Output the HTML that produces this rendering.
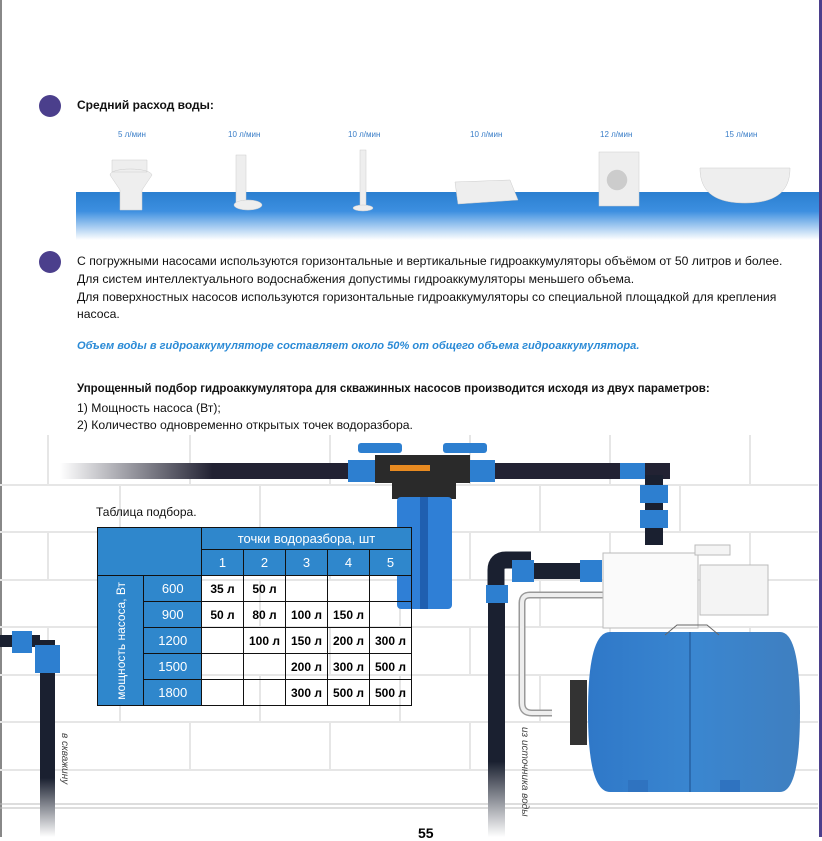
<!DOCTYPE html>
<html><head><meta charset="utf-8"><style>
body{margin:0;width:822px;height:837px;overflow:hidden;background:#fff;font-family:"Liberation Sans","DejaVu Sans",sans-serif;position:relative}
.a{position:absolute;white-space:nowrap}
.t{font-size:12.2px;color:#111}
.dot{position:absolute;width:22px;height:22px;border-radius:50%;background:#4b3f8c}
table{border-collapse:collapse;position:absolute;left:97px;top:527px;font-family:"Liberation Sans",sans-serif}
td{border:1.5px solid #111;text-align:center;font-size:12px;font-weight:bold;padding:0;height:25px}
td.b{background:#2f87cc;color:#fff;font-weight:normal;font-size:13px}
</style></head><body>
<div class="a" style="left:0;top:0;width:2px;height:837px;background:#888"></div>
<div class="a" style="left:819px;top:0;width:3px;height:837px;background:#4b3f8c"></div>
<div class="dot" style="left:39px;top:95px"></div>
<div class="a t" style="left:77px;top:98px;font-weight:bold;font-size:12px">Средний расход воды:</div>
<div class="a" style="left:76px;top:192px;width:743px;height:48px;background:linear-gradient(#2a7fd0,#3d8fe0 40%,#fff)"></div>
<div class="a" style="color:#3a7ec8;font-size:8px;top:130px;left:118px">5 л/мин</div>
<div class="a" style="color:#3a7ec8;font-size:8px;top:130px;left:228px">10 л/мин</div>
<div class="a" style="color:#3a7ec8;font-size:8px;top:130px;left:348px">10 л/мин</div>
<div class="a" style="color:#3a7ec8;font-size:8px;top:130px;left:470px">10 л/мин</div>
<div class="a" style="color:#3a7ec8;font-size:8px;top:130px;left:600px">12 л/мин</div>
<div class="a" style="color:#3a7ec8;font-size:8px;top:130px;left:725px">15 л/мин</div>
<svg class="a" style="left:0;top:0" width="822" height="837">
<g fill="#eee" stroke="#ccc" stroke-width=".5">
<path d="M112 160h35v12h-35zM110 175c0-8 40-8 42 0l-10 15v20h-22v-20z"/>
<rect x="236" y="155" width="10" height="50"/><ellipse cx="248" cy="205" rx="14" ry="5"/>
<rect x="360" y="150" width="6" height="58"/><ellipse cx="363" cy="208" rx="10" ry="3"/>
<path d="M455 182l55-2 8 20-60 4z"/>
<rect x="599" y="152" width="40" height="54"/><circle cx="617" cy="180" r="10" fill="#ccc"/>
<path d="M700 168h90c0 20-10 35-45 35s-45-15-45-35z"/>
</g>
</svg>
<div class="dot" style="left:39px;top:251px"></div>
<div class="a t" style="left:77px;top:254px">С погружными насосами используются горизонтальные и вертикальные гидроаккумуляторы объёмом от 50 литров и более.</div>
<div class="a t" style="left:77px;top:272px">Для систем интеллектуального водоснабжения допустимы гидроаккумуляторы меньшего объема.</div>
<div class="a t" style="left:77px;top:290px">Для поверхностных насосов используются горизонтальные гидроаккумуляторы со специальной площадкой для крепления</div>
<div class="a t" style="left:77px;top:307px">насоса.</div>
<div class="a" style="left:77px;top:340px;font-size:11.1px;color:#2a8ad6;font-style:italic;font-weight:bold">Объем воды в гидроаккумуляторе составляет около 50% от общего объема гидроаккумулятора.</div>
<div class="a" style="left:77px;top:383px;font-weight:bold;font-size:11.5px;color:#111">Упрощенный подбор гидроаккумулятора для скважинных насосов производится исходя из двух параметров:</div>
<div class="a t" style="left:77px;top:401px">1) Мощность насоса (Вт);</div>
<div class="a t" style="left:77px;top:418px">2) Количество одновременно открытых точек водоразбора.</div>
<svg class="a" style="left:0;top:435px" width="822" height="402">
<g fill="none" stroke="#e6e6e6" stroke-width="2">
<path d="M0 50H818M0 97H818M0 145H818M0 192H818M0 240H818M0 287H818M0 335H818"/>
<path d="M48 0v50M190 0v50M330 0v50M470 0v50M610 0v50M750 0v50M120 50v47M260 50v47M400 50v47M540 50v47M680 50v47M48 97v48M190 97v48M330 97v48M470 97v48M610 97v48M750 97v48M120 145v47M260 145v47M400 145v47M540 145v47M680 145v47M48 192v48M190 192v48M330 192v48M470 192v48M610 192v48M750 192v48M120 240v47M260 240v47M400 240v47M540 240v47M680 240v47M48 287v48M190 287v48M330 287v48M470 287v48M610 287v48M750 287v48"/>
</g>
<path d="M0 369H818M0 373H818" stroke="#bbb" stroke-width="1"/>
<defs><linearGradient id="pl" x1="0" x2="1"><stop offset="0" stop-color="#fff"/><stop offset=".25" stop-color="#223"/></linearGradient>
<linearGradient id="pv" x1="0" y1="0" x2="0" y2="1"><stop offset=".7" stop-color="#1a2030"/><stop offset="1" stop-color="#fff"/></linearGradient>
<linearGradient id="tk" x1="0" x2="1"><stop offset="0" stop-color="#2f78c8"/><stop offset=".5" stop-color="#3a86d0"/><stop offset="1" stop-color="#3f7fc0"/></linearGradient></defs>
<rect x="60" y="28" width="610" height="16" fill="url(#pl)"/>
<rect x="645" y="40" width="18" height="70" fill="#1a2030"/>
<rect x="640" y="50" width="28" height="18" fill="#2d7fd0"/><rect x="640" y="75" width="28" height="18" fill="#2d7fd0"/>
<rect x="620" y="28" width="25" height="16" fill="#2d7fd0"/>
<rect x="348" y="25" width="30" height="22" fill="#2d7fd0"/><rect x="465" y="25" width="30" height="22" fill="#2d7fd0"/>
<rect x="358" y="8" width="44" height="10" rx="3" fill="#2d7fd0"/><rect x="443" y="8" width="44" height="10" rx="3" fill="#2d7fd0"/>
<rect x="375" y="20" width="95" height="28" fill="#2a2a2a"/><rect x="390" y="30" width="40" height="6" fill="#e88a20"/>
<rect x="392" y="48" width="64" height="16" fill="#2a2a2a"/>
<rect x="397" y="62" width="55" height="112" rx="4" fill="#2f7fd6"/><rect x="420" y="62" width="8" height="112" fill="#1f5fb0"/>
<rect x="488" y="150" width="17" height="252" fill="url(#pv)"/>
<path d="M496 150v-15q0-10 10-10h25" stroke="#1a2030" stroke-width="17" fill="none"/>
<rect x="486" y="150" width="22" height="18" fill="#2d7fd0"/><rect x="512" y="125" width="22" height="22" fill="#2d7fd0"/><rect x="580" y="125" width="22" height="22" fill="#2d7fd0"/>
<rect x="534" y="128" width="46" height="16" fill="#1a2030"/>
<path d="M628 160H530q-8 0-8 8v100q0 10 10 10h20" stroke="#999" stroke-width="7" fill="none"/>
<path d="M628 160H530q-8 0-8 8v100q0 10 10 10h20" stroke="#eee" stroke-width="4" fill="none"/>
<path d="M603 118h95v75H603z" fill="#fafafa" stroke="#bbb"/><path d="M695 110h35v10h-35zM700 130h68v50h-68z" fill="#f4f4f4" stroke="#bbb"/>
<rect x="570" y="245" width="17" height="65" fill="#333"/>
<path d="M610 197h170q20 0 20 80q0 80-20 80H610q-22 0-22-80q0-80 22-80z" fill="url(#tk)"/>
<path d="M690 197v160" stroke="#1c4f8c"/>
<path d="M665 200l12-10h30l12 10" stroke="#666" fill="none"/>
<rect x="628" y="345" width="20" height="12" fill="#2f73c0"/><rect x="720" y="345" width="20" height="12" fill="#2f73c0"/>
<rect x="40" y="205" width="15" height="197" fill="url(#pv)"/>
<rect x="0" y="200" width="40" height="12" fill="#1a2030"/><rect x="12" y="196" width="20" height="22" fill="#2d7fd0"/>
<rect x="35" y="210" width="25" height="28" fill="#2d7fd0"/>
</svg>
<div class="a" style="top:733px;font-size:10px;font-style:italic;color:#444;transform:rotate(90deg);transform-origin:0 0;left:70px">в скважину</div>
<div class="a" style="left:530px;top:727px;font-size:10px;font-style:italic;color:#444;transform:rotate(90deg);transform-origin:0 0">из источника воды</div>
<div class="a" style="left:418px;top:825px;font-size:14px;font-weight:bold">55</div>
<div class="a" style="left:96px;top:505px;font-size:12px;color:#111">Таблица подбора.</div>
<table>
<tr><td class="b" colspan="2" rowspan="2" style="width:103px"></td><td class="b" colspan="5" style="height:21px">точки водоразбора, шт</td></tr>
<tr><td class="b" style="width:41px;height:21px">1</td><td class="b" style="width:41px">2</td><td class="b" style="width:41px">3</td><td class="b" style="width:41px">4</td><td class="b" style="width:41px">5</td></tr>
<tr><td class="b" rowspan="5" style="width:45px"><div style="writing-mode:vertical-rl;transform:rotate(180deg);white-space:nowrap;margin:auto;font-size:12px;line-height:14px">мощность насоса, Вт</div></td><td class="b" style="width:56px">600</td><td>35 л</td><td>50 л</td><td></td><td></td><td></td></tr>
<tr><td class="b">900</td><td>50 л</td><td>80 л</td><td>100 л</td><td>150 л</td><td></td></tr>
<tr><td class="b">1200</td><td></td><td>100 л</td><td>150 л</td><td>200 л</td><td>300 л</td></tr>
<tr><td class="b">1500</td><td></td><td></td><td>200 л</td><td>300 л</td><td>500 л</td></tr>
<tr><td class="b">1800</td><td></td><td></td><td>300 л</td><td>500 л</td><td>500 л</td></tr>
</table>
</body></html>
